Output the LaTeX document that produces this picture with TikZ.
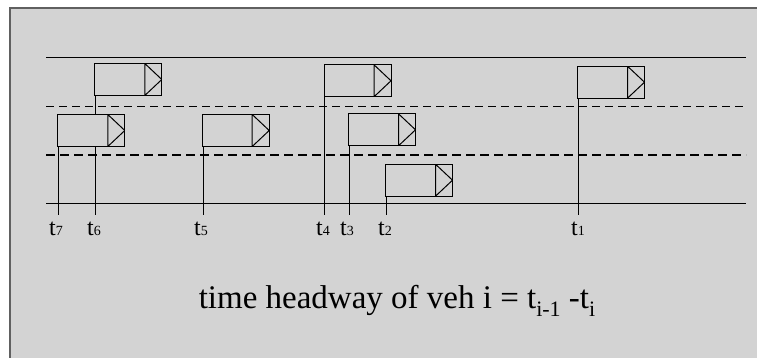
\documentclass[tikz,border=0pt]{standalone}
\usepackage{fontspec}
\setmainfont{Liberation Serif}
\definecolor{bg}{RGB}{211,211,211}
\definecolor{frame}{RGB}{96,96,96}
\newcommand{\lblsub}[1]{{\fontsize{14pt}{14pt}\selectfont #1}}
\newcommand{\txtsub}[1]{\raisebox{-8pt}{\fontsize{22pt}{22pt}\selectfont #1}}
\begin{document}
\begin{tikzpicture}[x=1pt,y=-1pt,
  road/.style={line width=1pt},
  thindash/.style={line width=1pt, dash pattern=on 8pt off 5pt},
  thickdash/.style={line width=2pt, dash pattern=on 9pt off 5pt},
  marker/.style={line width=1pt},
  car/.style={draw, fill=bg, line width=1pt, rectangle, minimum width=67pt, minimum height=32pt,
    inner sep=0pt, anchor=south west,
    path picture={\draw[line width=1pt] ([xshift=-17pt]path picture bounding box.north east)
      -- ([xshift=-17pt]path picture bounding box.south east)
      -- (path picture bounding box.east) -- cycle;}},
  tlabel/.style={anchor=base, inner sep=0pt, font=\fontsize{24pt}{24pt}\selectfont}
]
\useasboundingbox (0,0) rectangle (757,358);
\fill[white] (0,0) rectangle (757,358);
\fill[bg] (10,8) rectangle (758,359);
\draw[frame, line width=1.8pt] (10,359) -- (10,8) -- (758,8);

% road lines
\coordinate (rl1) at (46,57.5);   \coordinate (rr1) at (746,57.5);
\coordinate (rl2) at (46,106.5);  \coordinate (rr2) at (746,106.5);
\coordinate (rl3) at (46,155);    \coordinate (rr3) at (746,155);
\coordinate (rl4) at (46,203.5);  \coordinate (rr4) at (746,203.5);
\draw[road] (rl1) -- (rr1);
\draw[thindash] (rl2) -- (rr2);
\draw[thickdash] (rl3) -- (rr3);
\draw[road] (rl4) -- (rr4);

\coordinate (base) at (0,215);

% markers (drawn first, cars cover them)
\coordinate (p7) at (58.3,147);
\coordinate (p6) at (95.5,96);
\coordinate (p5) at (203,147);
\coordinate (p4) at (324.5,97.3);
\coordinate (p3) at (349,146.3);
\coordinate (p2) at (386,196.7);
\coordinate (p1) at (578.5,98.7);
\foreach \p in {p1,p2,p3,p4,p5,p6,p7}{
  \draw[marker] (\p) -- (\p |- base);
}

% cars
\node[car] (cA) at (94.3,96) {};
\node[car] (cB) at (57.3,147) {};
\node[car] (cC) at (201.7,147) {};
\node[car] (cD) at (323.5,97.3) {};
\node[car] (cE) at (348,146.3) {};
\node[car] (cF) at (385,196.7) {};
\node[car] (cG) at (577,98.7) {};

% labels
\node[tlabel] (l7) at (56,235) {t\lblsub{7}};
\node[tlabel] (l6) at (94,235) {t\lblsub{6}};
\node[tlabel] (l5) at (201,235) {t\lblsub{5}};
\node[tlabel] (l4) at (323,235) {t\lblsub{4}};
\node[tlabel] (l3) at (347,235) {t\lblsub{3}};
\node[tlabel] (l2) at (385,235) {t\lblsub{2}};
\node[tlabel] (l1) at (578,235) {t\lblsub{1}};

\node[anchor=base, inner sep=0pt, font=\fontsize{33pt}{33pt}\selectfont] (cap) at (397,308)
  {time headway of veh i = t\txtsub{i-1} -t\txtsub{i}};
\end{tikzpicture}
\end{document}
